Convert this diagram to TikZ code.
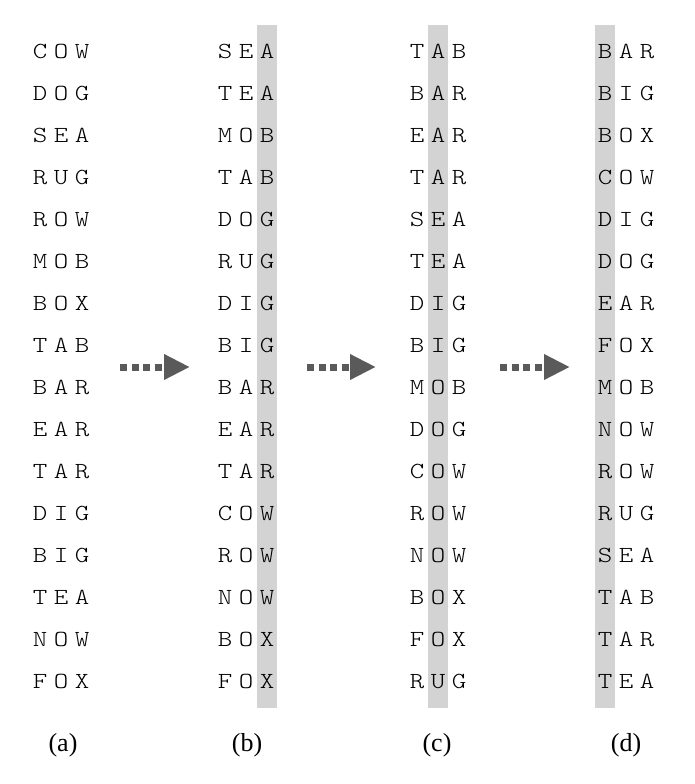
\documentclass[tikz,border=0pt]{standalone}
\usepackage{fontspec}
\setmainfont{Liberation Serif}
\newfontfamily\wordfont[FakeStretch=1.2]{Latin Modern Mono Light}
\usepackage{tikz}
\usetikzlibrary{arrows.meta}
\usetikzlibrary{positioning}
\definecolor{barcol}{RGB}{211,211,211}
\definecolor{arrcol}{RGB}{90,90,90}
\tikzset{
     letter/.style={
           inner sep=0pt,
           text height=13pt,
           text depth=0pt,
           font=\wordfont\fontsize{23}{26}\selectfont,
           },
     caption/.style={
           inner sep=0pt,
           font=\fontsize{26}{30}\selectfont,
           },
     sortarrow/.style={
           draw=arrcol,
           line width=7pt,
           dash pattern=on 7pt off 4.5pt,
           -{Triangle[length=26pt,width=24pt,fill=arrcol]},
           },
}

\begin{document}
\begin{tikzpicture}[x=1pt,y=-1pt]
	\useasboundingbox[fill=white] (0,0) rectangle (694,784);

	%shaded key columns
	\fill[barcol] (257,25) rectangle (277,708);
	\fill[barcol] (428,25) rectangle (448,708);
	\fill[barcol] (595,25) rectangle (615,708);

	%column (a)
	\foreach \p/\q/\s [count=\r] in {C/O/W,D/O/G,S/E/A,R/U/G,R/O/W,M/O/B,B/O/X,T/A/B,
			B/A/R,E/A/R,T/A/R,D/I/G,B/I/G,T/E/A,N/O/W,F/O/X}{
		\node[letter] (a-\r-1) at (40,10+42*\r) {\p};
		\node[letter] (a-\r-2) at (61,10+42*\r) {\q};
		\node[letter] (a-\r-3) at (82,10+42*\r) {\s};
	}
	%column (b)
	\foreach \p/\q/\s [count=\r] in {S/E/A,T/E/A,M/O/B,T/A/B,D/O/G,R/U/G,D/I/G,B/I/G,
			B/A/R,E/A/R,T/A/R,C/O/W,R/O/W,N/O/W,B/O/X,F/O/X}{
		\node[letter] (b-\r-1) at (225,10+42*\r) {\p};
		\node[letter] (b-\r-2) at (246,10+42*\r) {\q};
		\node[letter] (b-\r-3) at (267,10+42*\r) {\s};
	}
	%column (c)
	\foreach \p/\q/\s [count=\r] in {T/A/B,B/A/R,E/A/R,T/A/R,S/E/A,T/E/A,D/I/G,B/I/G,
			M/O/B,D/O/G,C/O/W,R/O/W,N/O/W,B/O/X,F/O/X,R/U/G}{
		\node[letter] (c-\r-1) at (417,10+42*\r) {\p};
		\node[letter] (c-\r-2) at (438,10+42*\r) {\q};
		\node[letter] (c-\r-3) at (459,10+42*\r) {\s};
	}
	%column (d)
	\foreach \p/\q/\s [count=\r] in {B/A/R,B/I/G,B/O/X,C/O/W,D/I/G,D/O/G,E/A/R,F/O/X,
			M/O/B,N/O/W,R/O/W,R/U/G,S/E/A,T/A/B,T/A/R,T/E/A}{
		\node[letter] (d-\r-1) at (605,10+42*\r) {\p};
		\node[letter] (d-\r-2) at (626,10+42*\r) {\q};
		\node[letter] (d-\r-3) at (647,10+42*\r) {\s};
	}

	%captions
	\node[caption] (capa) at (63,745) {(a)};
	\node[caption] (capb) at (247,745) {(b)};
	\node[caption] (capc) at (437,745) {(c)};
	\node[caption] (capd) at (626,745) {(d)};

	%ARROWS
	\coordinate (s1) at (120,367);
	\coordinate[right=70pt of s1] (e1);
	\coordinate (s2) at (307,367);
	\coordinate[right=69pt of s2] (e2);
	\coordinate (s3) at (500,367);
	\coordinate[right=70pt of s3] (e3);

	\draw[sortarrow] (s1) -- (e1);
	\draw[sortarrow] (s2) -- (e2);
	\draw[sortarrow] (s3) -- (e3);
\end{tikzpicture}
\end{document}
